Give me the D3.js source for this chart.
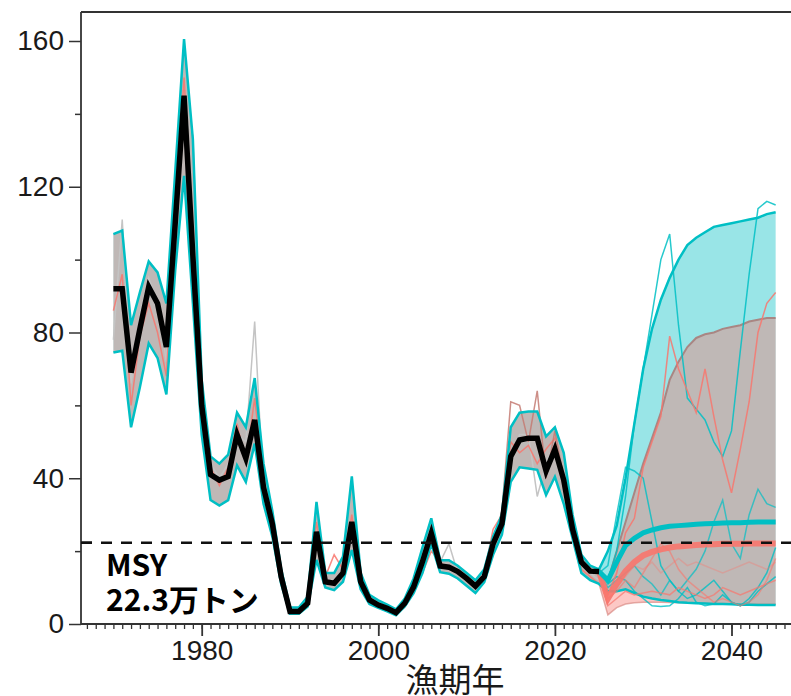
<!DOCTYPE html>
<html><head><meta charset="utf-8">
<script src="https://cdn.jsdelivr.net/npm/d3@7"></script>
<style>body{margin:0;background:#fff}</style>
</head><body>
<svg id="c" width="791" height="696" xmlns="http://www.w3.org/2000/svg"></svg>
<script>
// ---------------- DATA ----------------
const histYears = [1970,1971,1972,1973,1974,1975,1976,1977,1978,1979,1980,1981,1982,1983,1984,1985,1986,1987,1988,1989,1990,1991,1992,1993,1994,1995,1996,1997,1998,1999,2000,2001,2002,2003,2004,2005,2006,2007,2008,2009,2010,2011,2012,2013,2014,2015,2016,2017,2018,2019,2020,2021,2022,2023,2024,2025];
// observed / estimated median (black)
const histMedian = [92,92,69,81,92.5,88,76,110,145,101,60,41,39.5,40.5,52,45.5,56,37.5,27.5,13,3.4,3.4,5.7,25.3,11.6,11.2,14,28,11.6,6.6,5.2,4.3,3.1,5.7,10.2,17.1,24.9,15.9,15.6,14.4,12.5,10.4,13,22,27.5,46,50.5,51,51,42,48,39.5,26,17,14.5,14.4];
// band bounds 1970-2024 (shared by both scenarios)
const bandYears = histYears.slice(0, 55);
const histUpper = [107,108,82,91,99.5,96.5,88,124,160.5,133,67,46,44,46.5,58,54,67.5,44,31,15,4.5,4.5,7.5,33.5,14,14,18.5,40.5,14,8,6.5,5.3,4,7,12.5,21,29,17.5,17.5,16,14,12,15,24,30,54,58,58.3,58.3,51.5,54,47,30,19,16];
const histLower = [74.5,75,54,65,77,73,63,97,123,88,52,34,32.5,34,43.5,39,49.5,33,24,11,2.8,2.8,4.8,17.6,10,9.3,11.6,20.3,9.5,5.5,4.4,3.5,2.4,4.8,8.5,14,22,14.2,13.8,12.5,10.5,8.5,11.5,19,24.5,39,43,42.7,42.3,35.4,40.4,33,23.5,14,12];
// individual historical trajectories
const histTrajRed  = [86,96,60,79,88,80,68,112,150,108,62,43,38,43,55,44,62,40,27,13,3.5,3.5,6,28,13,19,15,30,12,6.5,5,4.5,3,6,10,14,20,17,15,14,12,10,14,26,30,50,47,49,44,48,51,38,27,15,13,11];
const histTrajGray = [78,111,66,85,95,88,72,118,140,134,64,44,40,44,52,50,83,36,26,12,3,3,6,24,12,12,14,27,12,7,5,4,3,6,11,19,26,17,22,14,12,11,13,21,27,45,52,52,35,44,50,40,25,17,14,12];
const histTrajBrownYears = [2012,2013,2014,2015,2016,2017,2018,2019,2020,2021,2022];
const histTrajBrown = [13,22,31,61,60,50,64,40,53,40,26];

// projections 2025-2045
const projYears = [2025,2026,2027,2028,2029,2030,2031,2032,2033,2034,2035,2036,2037,2038,2039,2040,2041,2042,2043,2044,2045];
const cyanUpper  = [15,20,27,40,55,70,81,89,95,100,104,106,107.5,109,109.5,110,110.5,111,111.5,112.5,113];
const cyanLower  = [11,9,9,9.5,8.5,7.5,7,6.6,6.3,6,5.8,5.7,5.6,5.5,5.5,5.4,5.3,5.3,5.2,5.2,5.2];
const cyanMedian = [14.4,12,17,21.5,23.5,25,25.8,26.4,26.8,27,27.2,27.4,27.5,27.6,27.7,27.8,27.8,27.9,28,28,28];
const redUpper   = [15,12,20,28,36,44,51,58,67,72,76,78.5,79.5,80,81,81.5,82,83,83.5,84,84];
const redLower   = [11,2.5,4.5,5.5,5.8,6,6,6,5.9,5.8,5.8,5.7,5.7,5.6,5.6,5.5,5.5,5.5,5.4,5.4,5.4];
const redMedian  = [14.4,7,11,14.5,17,18.8,19.8,20.5,21,21.3,21.5,21.7,21.8,21.9,22,22,22,22.1,22.1,22.1,22.1];
// individual projected trajectories
const cyanTrajA = [14,12,20,35,55,70,85,100,107,82,62,59,56,50,46,53,75,96,114,116,115];
const cyanTrajC = [14,16,30,43,42,40,28,16,12,9,7,8,10,12,9,6,5,6,9,11,13];
const cyanTrajD = [14,10,12,14,16,13,11,8,12,9,12,15,20,28,34,22,18,30,37,33,32];
const cyanTrajE = [14,11,13,12,9,7,5,4.8,5,7,10,6,5,5.5,8,6,5,7,10,14,21];
const redTrajB  = [14,8,14,25,29,43,50,57,79,70,64,58,70,57,45,36,48,61,80,88,91];
const redTrajH  = [14,5,7,9,8,8.5,9,8.5,8,10,9,8,7,8,10,9,8,9,10,11,12];
const redTrajK  = [14,7,9,12,10,14,18,22,20,15,12,10,8,6,7,6,5,6,8,12,18];
const redTrajJ  = [14,6,10,13,16,15,17,14,16,18,16,17,16,15,14,15,16,17,16,15,17];

const msy = 22.3;
const yTicks = [0,40,80,120,160];
const yMinor = [20,60,100,140];
const xTicks = [1980,2000,2020,2040];

// ---------------- DRAW ----------------
const svg = d3.select('#c');
const pLeft = 81, pTop = 12, pRight = 800, pBottom = 624;
const x = d3.scaleLinear().domain([1980, 2040]).range([201.7, 731.5]);
const y = d3.scaleLinear().domain([0, 160]).range([624, 41]);
const CY = '#00BFC4', RD = '#F8766D';

svg.append('defs').append('clipPath').attr('id','pc')
  .append('rect').attr('x',pLeft).attr('y',pTop).attr('width',pRight-pLeft).attr('height',pBottom-pTop);
const g = svg.append('g').attr('clip-path','url(#pc)');

const bandData = (up, lo) => bandYears.map((yr,i)=>({yr, u:histUpper[i], l:histLower[i]}))
  .concat(projYears.map((yr,i)=>({yr, u:up[i], l:lo[i]})));
const cyanBand = bandData(cyanUpper, cyanLower);
const redBand  = bandData(redUpper, redLower);
const area = d3.area().x(d=>x(d.yr)).y0(d=>y(d.l)).y1(d=>y(d.u));
const line = d3.line().x(d=>x(d[0])).y(d=>y(d[1]));
const pts = (yrs, vals) => yrs.map((yr,i)=>[yr, vals[i]]);

g.append('path').attr('d', area(cyanBand)).attr('fill', CY).attr('fill-opacity', 0.4);
g.append('path').attr('d', area(redBand)).attr('fill', RD).attr('fill-opacity', 0.4);

// red band edges (muted)
g.append('path').attr('d', line(pts(projYears, redUpper))).attr('fill','none').attr('stroke','#a98683').attr('stroke-width',2);
g.append('path').attr('d', line(pts(projYears, redLower))).attr('fill','none').attr('stroke','#d98a84').attr('stroke-width',1.5).attr('stroke-opacity',0.7);

// historical thin trajectories
g.append('path').attr('d', line(pts(histYears, histTrajGray))).attr('fill','none').attr('stroke','#c4c4c4').attr('stroke-width',1.5);
g.append('path').attr('d', line(pts(histYears, histTrajRed))).attr('fill','none').attr('stroke',RD).attr('stroke-width',1.5).attr('stroke-opacity',0.85);
g.append('path').attr('d', line(pts(histTrajBrownYears, histTrajBrown))).attr('fill','none').attr('stroke','#c47a72').attr('stroke-width',1.5).attr('stroke-opacity',0.85);

// cyan band edges
g.append('path').attr('d', line(cyanBand.map(d=>[d.yr,d.u]))).attr('fill','none').attr('stroke',CY).attr('stroke-width',2.5);
g.append('path').attr('d', line(cyanBand.map(d=>[d.yr,d.l]))).attr('fill','none').attr('stroke',CY).attr('stroke-width',2.5);

// projected thin trajectories
[[cyanTrajA,CY,0.85],[cyanTrajC,CY,0.8],[cyanTrajD,CY,0.7],[cyanTrajE,CY,0.8],
 [redTrajB,RD,0.85],[redTrajH,RD,0.7],[redTrajK,RD,0.6],[redTrajJ,RD,0.35]].forEach(([v,c,o])=>{
  g.append('path').attr('d', line(pts(projYears, v))).attr('fill','none')
   .attr('stroke',c).attr('stroke-width',1.5).attr('stroke-opacity',o);
});

// medians
g.append('path').attr('d', line(pts(projYears, redMedian))).attr('fill','none').attr('stroke',RD).attr('stroke-width',6).attr('stroke-opacity',0.9);
g.append('path').attr('d', line(pts(projYears, cyanMedian))).attr('fill','none').attr('stroke',CY).attr('stroke-width',5);

// MSY dashed line
svg.append('line').attr('x1',pLeft).attr('x2',791).attr('y1',y(msy)).attr('y2',y(msy))
  .attr('stroke','#111').attr('stroke-width',2.5).attr('stroke-dasharray','11,9');

// black median
g.append('path').attr('d', line(pts(histYears, histMedian))).attr('fill','none').attr('stroke','#000')
  .attr('stroke-width',5.5).attr('stroke-linejoin','miter');

// frame
svg.append('line').attr('x1',pLeft).attr('x2',791).attr('y1',pTop).attr('y2',pTop).attr('stroke','#333').attr('stroke-width',1.8);

// axes
const yAxis = svg.append('g').attr('transform',`translate(${pLeft},0)`)
  .call(d3.axisLeft(y).tickValues(yTicks).tickSize(12).tickPadding(5).tickFormat(d3.format('d')));
yAxis.select('.domain').attr('d', `M0,${pTop}V${pBottom}`).attr('stroke','#333').attr('stroke-width',1.8);
yAxis.selectAll('.tick line').attr('stroke','#333').attr('stroke-width',1.5);
yAxis.selectAll('text').attr('font-family','Liberation Sans, Arial, sans-serif').attr('font-size',28).attr('fill','#1a1a1a');
svg.append('g').attr('transform',`translate(${pLeft},0)`)
  .call(d3.axisLeft(y).tickValues(yMinor).tickSize(6).tickFormat(''))
  .call(s=>{s.select('.domain').remove(); s.selectAll('.tick line').attr('stroke','#333').attr('stroke-width',1.5);});
// MSY marker tick on axis
svg.append('line').attr('x1',pLeft).attr('x2',pLeft+11).attr('y1',y(msy)).attr('y2',y(msy)).attr('stroke','#111').attr('stroke-width',2.5);

const minorYears = d3.range(1967, 2047);
svg.append('g').attr('transform',`translate(0,${pBottom})`)
  .call(d3.axisBottom(x).tickValues(minorYears).tickSize(5).tickFormat(''))
  .call(s=>{s.select('.domain').remove(); s.selectAll('.tick line').attr('stroke','#333').attr('stroke-width',1.3);});
const xAxis = svg.append('g').attr('transform',`translate(0,${pBottom})`)
  .call(d3.axisBottom(x).tickValues(xTicks).tickSize(12).tickPadding(4).tickFormat(d3.format('d')));
xAxis.select('.domain').attr('d', `M${pLeft},0H791`).attr('stroke','#333').attr('stroke-width',1.8);
xAxis.selectAll('.tick line').attr('stroke','#333').attr('stroke-width',1.8);
xAxis.selectAll('text').attr('font-family','Liberation Sans, Arial, sans-serif').attr('font-size',28).attr('fill','#1a1a1a');

// labels
svg.append('text').attr('x',455).attr('y',692).attr('text-anchor','middle')
  .attr('font-family','Noto Sans CJK JP, sans-serif').attr('font-size',33).attr('fill','#1a1a1a').text('漁期年');
const lab = svg.append('text').attr('font-family','Noto Sans CJK JP, sans-serif').attr('font-weight','bold').attr('font-size',30).attr('fill','#000');
lab.append('tspan').attr('x',106).attr('y',576).text('MSY');
lab.append('tspan').attr('x',106).attr('y',611).text('22.3万トン');
</script>
</body></html>
